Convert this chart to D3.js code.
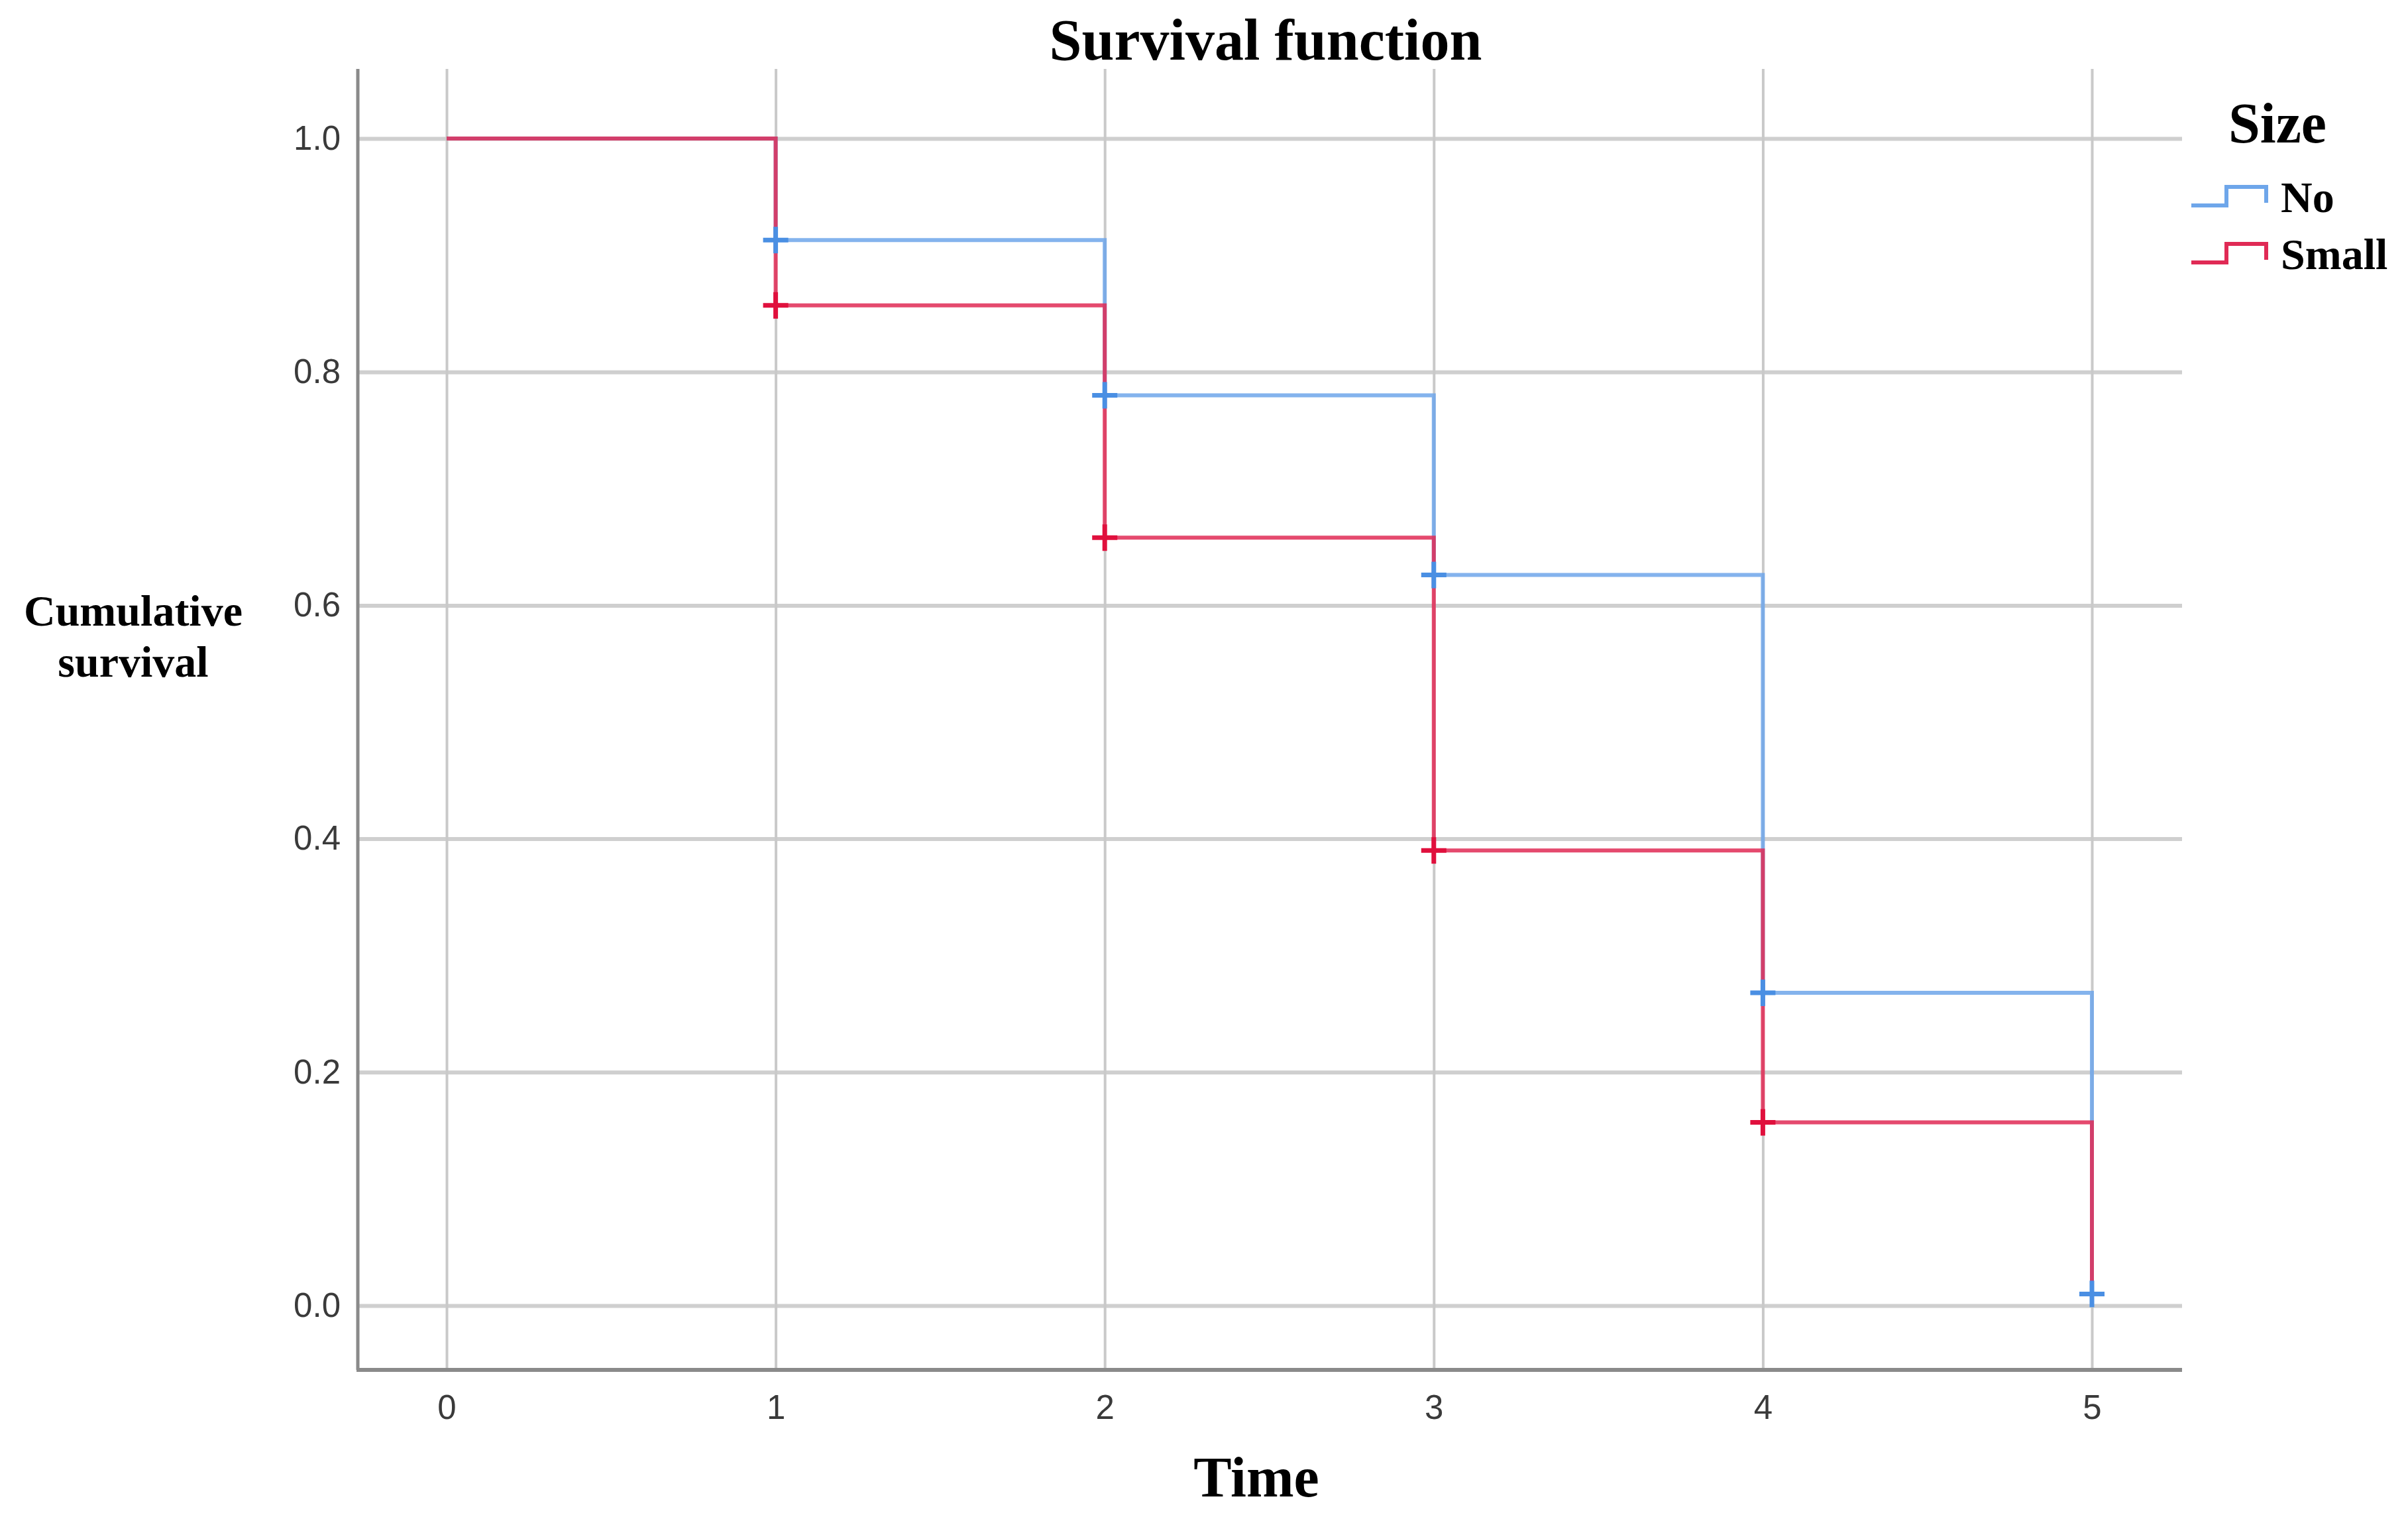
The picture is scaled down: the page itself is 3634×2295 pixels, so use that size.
<!DOCTYPE html>
<html>
<head>
<meta charset="utf-8">
<script src="https://cdn.jsdelivr.net/npm/d3@7"></script>
<style>
  html, body { margin: 0; padding: 0; background: #fff; }
  svg { display: block; }
</style>
</head>
<body>
<svg id="chart"></svg>
<script>
// survival steps
const times = [0, 1, 2, 3, 4, 5];
const noSurvival = [1.0, 0.913, 0.780, 0.626, 0.268, 0.010];
const smallSurvival = [1.0, 0.857, 0.658, 0.390, 0.157, 0.0];
// censor marks (time index)
const noCensored = [1, 2, 3, 4, 5];
const smallCensored = [1, 2, 3, 4];
const xTicks = [0, 1, 2, 3, 4, 5];
const yTicks = [0.0, 0.2, 0.4, 0.6, 0.8, 1.0];
const seriesNames = ["No", "Small"];
const seriesColors = ["#6ea6ea", "#e02a55"];
const censorColors = ["#4a8fe3", "#e0103d"];

const W = 3634, H = 2295;
const plotLeft = 540, plotRight = 3293, plotTop = 104, plotBottom = 2067;

let svg = d3.select("#chart").attr("width", W).attr("height", H);

let x = d3.scaleLinear().domain([0, 5]).range([674, 3157]);
let y = d3.scaleLinear().domain([0, 1]).range([1970, 209]);

const serif = "'Liberation Serif', 'Times New Roman', serif";
const sans = "'Liberation Sans', Arial, sans-serif";

// horizontal grid + y labels
let gy = svg.append("g")
  .attr("transform", "translate(" + plotLeft + ",0)")
  .call(d3.axisLeft(y).tickValues(yTicks).tickFormat(d3.format(".1f"))
    .tickSize(-(plotRight - plotLeft)).tickPadding(26));
gy.select(".domain").remove();
gy.selectAll(".tick line").attr("stroke", "#cfcfcf").attr("stroke-width", 6);
gy.selectAll(".tick text")
  .attr("font-family", sans).attr("font-size", 51).attr("fill", "#3a3a3a");

// vertical grid + x labels
let gx = svg.append("g")
  .attr("transform", "translate(0," + plotBottom + ")")
  .call(d3.axisBottom(x).tickValues(xTicks).tickFormat(d3.format("d"))
    .tickSize(-(plotBottom - plotTop)).tickPadding(38));
gx.select(".domain").remove();
gx.selectAll(".tick line").attr("stroke", "#c9c9c9").attr("stroke-width", 4);
gx.selectAll(".tick text")
  .attr("font-family", sans).attr("font-size", 51).attr("fill", "#3a3a3a");

// axis lines
svg.append("line").attr("x1", plotLeft).attr("x2", plotLeft).attr("y1", plotTop).attr("y2", plotBottom)
  .attr("stroke", "#8a8a8a").attr("stroke-width", 5);
svg.append("line").attr("x1", plotLeft - 2).attr("x2", plotRight).attr("y1", plotBottom).attr("y2", plotBottom)
  .attr("stroke", "#8a8a8a").attr("stroke-width", 6);

// step lines
let stepLine = d3.line()
  .x(function(d) { return x(d.t); })
  .y(function(d) { return y(d.s); })
  .curve(d3.curveStepAfter);

[noSurvival, smallSurvival].forEach(function(vals, i) {
  let pts = times.map(function(t, k) { return { t: t, s: vals[k] }; });
  svg.append("path")
    .datum(pts)
    .attr("d", stepLine)
    .attr("fill", "none")
    .attr("stroke", seriesColors[i])
    .attr("stroke-opacity", 0.85)
    .attr("stroke-width", 6);
});

// censor crosses
[[noCensored, noSurvival], [smallCensored, smallSurvival]].forEach(function(pair, i) {
  let g = svg.append("g");
  pair[0].forEach(function(k) {
    let cx = x(times[k]), cy = y(pair[1][k]);
    g.append("line").attr("x1", cx - 19).attr("x2", cx + 19).attr("y1", cy).attr("y2", cy)
      .attr("stroke", censorColors[i]).attr("stroke-width", 7);
    g.append("line").attr("x1", cx).attr("x2", cx).attr("y1", cy - 20).attr("y2", cy + 20)
      .attr("stroke", censorColors[i]).attr("stroke-width", 7);
  });
});

// title
svg.append("text")
  .attr("x", 1910).attr("y", 90)
  .attr("text-anchor", "middle")
  .attr("font-family", serif).attr("font-weight", "bold").attr("font-size", 88)
  .text("Survival function");

// x label
svg.append("text")
  .attr("x", 1896).attr("y", 2258)
  .attr("text-anchor", "middle")
  .attr("font-family", serif).attr("font-weight", "bold").attr("font-size", 86)
  .text("Time");

// y label
let yl = svg.append("text")
  .attr("text-anchor", "middle")
  .attr("font-family", serif).attr("font-weight", "bold").attr("font-size", 66);
yl.append("tspan").attr("x", 201).attr("y", 944).text("Cumulative");
yl.append("tspan").attr("x", 201).attr("y", 1021).text("survival");

// legend
svg.append("text")
  .attr("x", 3437).attr("y", 215)
  .attr("text-anchor", "middle")
  .attr("font-family", serif).attr("font-weight", "bold").attr("font-size", 86)
  .text("Size");

seriesNames.forEach(function(name, i) {
  let base = 310 + i * 86;
  svg.append("path")
    .attr("d", "M3307," + base + "H3360V" + (base - 28) + "H3420V" + (base - 4))
    .attr("fill", "none")
    .attr("stroke", seriesColors[i])
    .attr("stroke-width", 6);
  svg.append("text")
    .attr("x", 3442).attr("y", base + 10)
    .attr("font-family", serif).attr("font-weight", "bold").attr("font-size", 66)
    .text(name);
});
</script>
</body>
</html>
